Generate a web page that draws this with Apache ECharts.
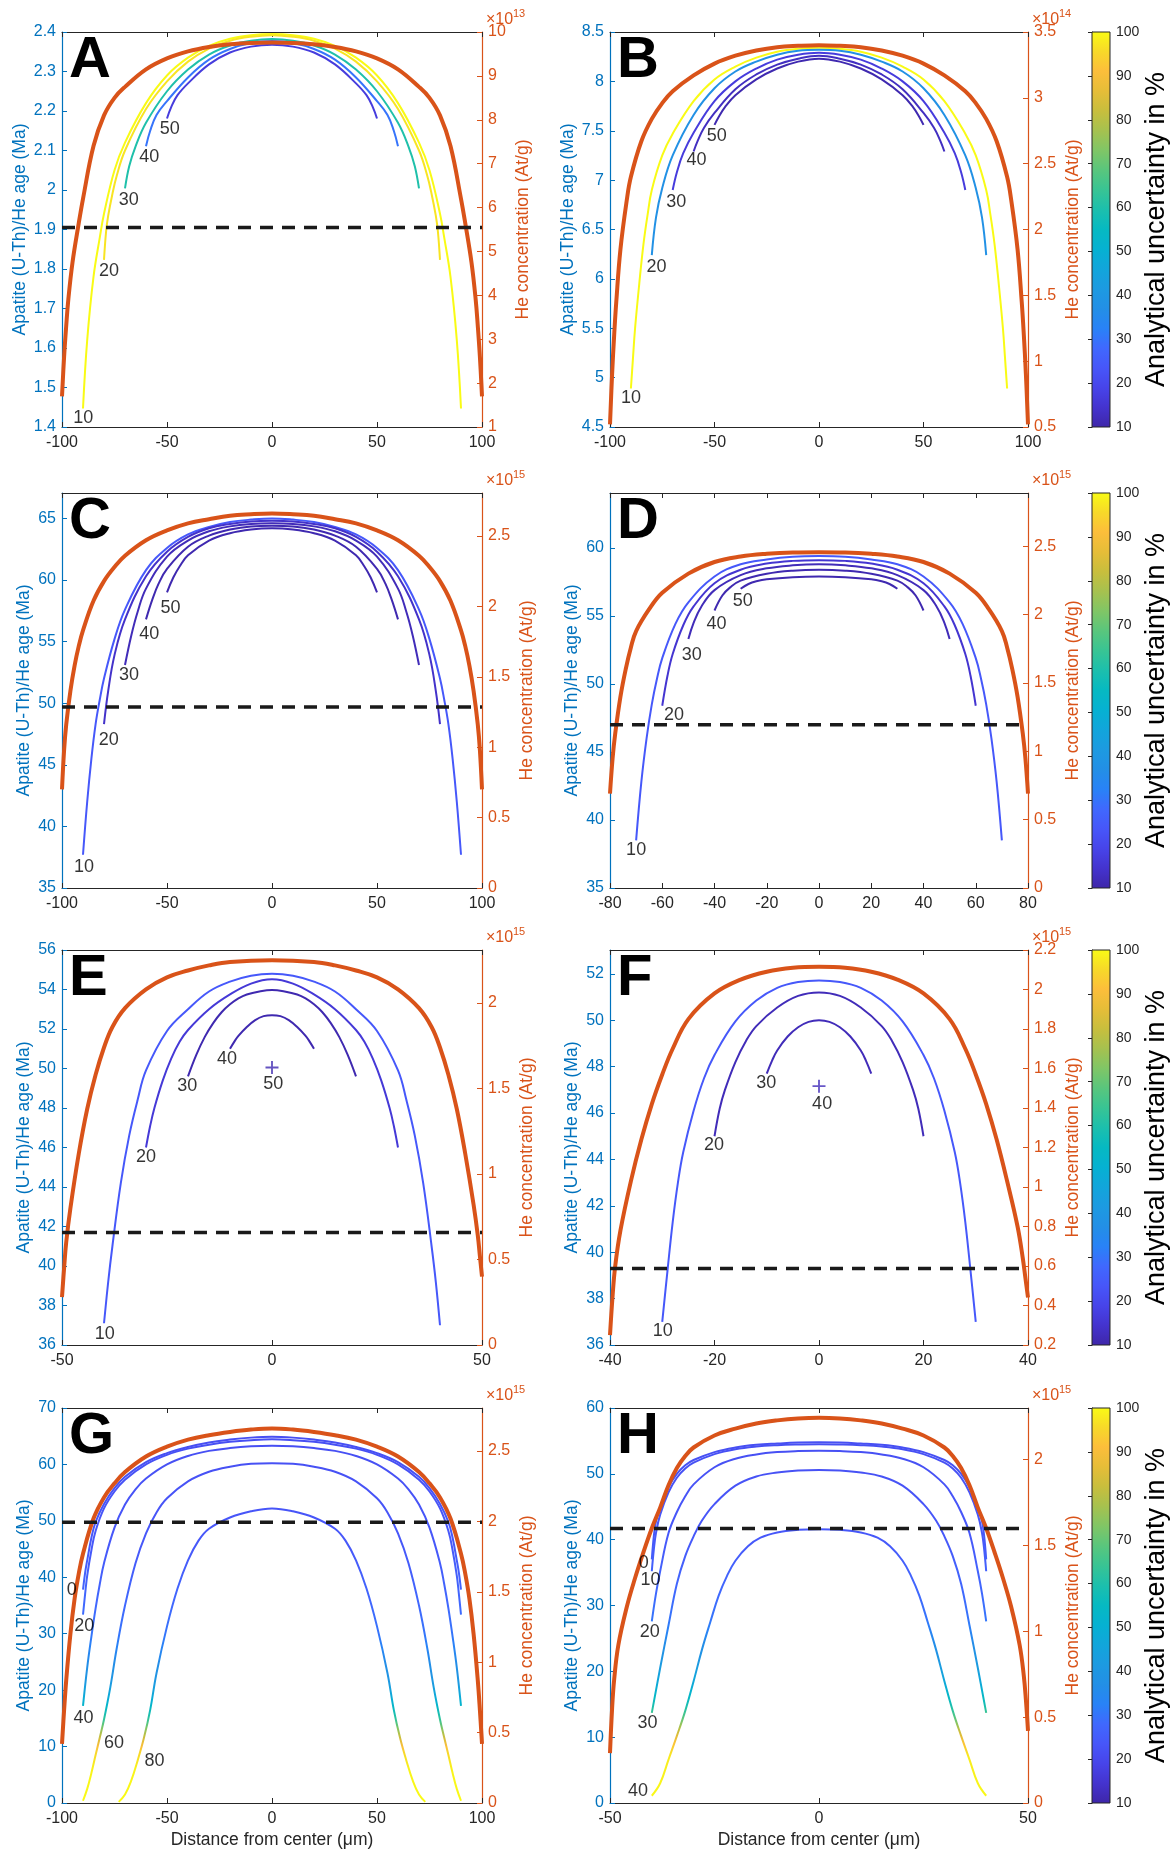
<!DOCTYPE html>
<html><head><meta charset="utf-8">
<script src="https://cdn.jsdelivr.net/npm/echarts@6/dist/echarts.min.js"></script>
<style>html,body{margin:0;padding:0;background:#fff}#c{width:1172px;height:1854px}</style>
</head><body><div id="c"></div>
<script>
// ---------------- tick labels ----------------
const X100 = [-100,-50,0,50,100];
const X80 = [-80,-60,-40,-20,0,20,40,60,80];
const X50 = [-50,0,50];
const X40 = [-40,-20,0,20,40];
const A_yT = [1.4,1.5,1.6,1.7,1.8,1.9,2,2.1,2.2,2.3,2.4];
const A_rT = [1,2,3,4,5,6,7,8,9,10];
const B_yT = [4.5,5,5.5,6,6.5,7,7.5,8,8.5];
const B_rT = [0.5,1,1.5,2,2.5,3,3.5];
const C_yT = [35,40,45,50,55,60,65];
const C_rT = [0,0.5,1,1.5,2,2.5];
const D_yT = [35,40,45,50,55,60];
const D_rT = [0,0.5,1,1.5,2,2.5];
const E_yT = [36,38,40,42,44,46,48,50,52,54,56];
const E_rT = [0,0.5,1,1.5,2];
const F_yT = [36,38,40,42,44,46,48,50,52];
const F_rT = [0.2,0.4,0.6,0.8,1,1.2,1.4,1.6,1.8,2,2.2];
const G_yT = [0,10,20,30,40,50,60,70];
const G_rT = [0,0.5,1,1.5,2,2.5];
const H_yT = [0,10,20,30,40,50,60];
const H_rT = [0,0.5,1,1.5,2];
const CB_T = [10,20,30,40,50,60,70,80,90,100];

// ---------------- panel A ----------------
const A_c10 = [[-90,1.447],[-88,1.62],[-85,1.78],[-82,1.88],[-80,1.94],[-75,2.05],[-70,2.12],[-60,2.22],[-50,2.29],[-40,2.335],[-30,2.365],[-20,2.383],[-10,2.392],[0,2.395],[10,2.392],[20,2.383],[30,2.365],[40,2.335],[50,2.29],[60,2.22],[70,2.12],[75,2.05],[80,1.94],[82,1.88],[85,1.78],[88,1.62],[90,1.447]];
const A_c20 = [[-80,1.823],[-79,1.895],[-78,1.935],[-76,1.99],[-74,2.035],[-70,2.1],[-60,2.205],[-50,2.275],[-40,2.325],[-30,2.358],[-20,2.378],[-10,2.388],[0,2.392],[10,2.388],[20,2.378],[30,2.358],[40,2.325],[50,2.275],[60,2.205],[70,2.1],[74,2.035],[76,1.99],[78,1.935],[79,1.895],[80,1.823]];
const A_c30 = [[-70,2.004],[-68,2.06],[-65,2.11],[-60,2.17],[-50,2.25],[-40,2.305],[-30,2.343],[-20,2.366],[-10,2.378],[0,2.382],[10,2.378],[20,2.366],[30,2.343],[40,2.305],[50,2.25],[60,2.17],[65,2.11],[68,2.06],[70,2.004]];
const A_c40 = [[-60,2.111],[-58,2.15],[-55,2.19],[-50,2.225],[-40,2.285],[-30,2.33],[-20,2.357],[-10,2.372],[0,2.377],[10,2.372],[20,2.357],[30,2.33],[40,2.285],[50,2.225],[55,2.19],[58,2.15],[60,2.111]];
const A_c50 = [[-50,2.181],[-48,2.21],[-45,2.24],[-40,2.27],[-30,2.318],[-20,2.348],[-10,2.363],[0,2.368],[10,2.363],[20,2.348],[30,2.318],[40,2.27],[45,2.24],[48,2.21],[50,2.181]];
const A_he = [[-100,1.7],[-99,2.6],[-98,3.3],[-97,3.9],[-95,4.75],[-92,5.65],[-90,6.2],[-85,7.4],[-80,8.1],[-75,8.5],[-70,8.75],[-60,9.15],[-50,9.4],[-40,9.56],[-30,9.66],[-20,9.72],[-10,9.75],[0,9.76],[10,9.75],[20,9.72],[30,9.66],[40,9.56],[50,9.4],[60,9.15],[70,8.75],[75,8.5],[80,8.1],[85,7.4],[90,6.2],[92,5.65],[95,4.75],[97,3.9],[98,3.3],[99,2.6],[100,1.7]];
const A_unc = [100,97,60,30,17];
const A_dash = 1.905;
const A_labels = [[-89.9,1.422,'10'],[-77.6,1.796,'20'],[-68.2,1.975,'30'],[-58.5,2.084,'40'],[-48.7,2.154,'50']];

// ---------------- panel B ----------------
const B_c10 = [[-90,4.89],[-89,5.2],[-88,5.5],[-86,5.95],[-84,6.35],[-82,6.65],[-80,6.9],[-75,7.25],[-70,7.47],[-60,7.8],[-50,8.02],[-40,8.15],[-30,8.24],[-20,8.3],[-10,8.33],[0,8.34],[10,8.33],[20,8.3],[30,8.24],[40,8.15],[50,8.02],[60,7.8],[70,7.47],[75,7.25],[80,6.9],[82,6.65],[84,6.35],[86,5.95],[88,5.5],[89,5.2],[90,4.89]];
const B_c20 = [[-80,6.24],[-78,6.62],[-75,6.92],[-70,7.25],[-60,7.66],[-50,7.93],[-40,8.1],[-30,8.2],[-20,8.27],[-10,8.31],[0,8.32],[10,8.31],[20,8.27],[30,8.2],[40,8.1],[50,7.93],[60,7.66],[70,7.25],[75,6.92],[78,6.62],[80,6.24]];
const B_c30 = [[-70,6.9],[-68,7.08],[-65,7.27],[-60,7.48],[-50,7.8],[-40,8.0],[-30,8.13],[-20,8.22],[-10,8.27],[0,8.29],[10,8.27],[20,8.22],[30,8.13],[40,8.0],[50,7.8],[60,7.48],[65,7.27],[68,7.08],[70,6.9]];
const B_c40 = [[-60,7.29],[-58,7.4],[-55,7.53],[-50,7.68],[-40,7.92],[-30,8.07],[-20,8.17],[-10,8.23],[0,8.26],[10,8.23],[20,8.17],[30,8.07],[40,7.92],[50,7.68],[55,7.53],[58,7.4],[60,7.29]];
const B_c50 = [[-50,7.56],[-48,7.64],[-45,7.74],[-40,7.86],[-30,8.02],[-20,8.13],[-10,8.2],[0,8.23],[10,8.2],[20,8.13],[30,8.02],[40,7.86],[45,7.74],[48,7.64],[50,7.56]];
const B_he = [[-100,0.52],[-99,0.9],[-98,1.2],[-97,1.45],[-95,1.85],[-92,2.22],[-90,2.4],[-85,2.67],[-80,2.84],[-75,2.96],[-70,3.05],[-60,3.17],[-50,3.26],[-40,3.32],[-30,3.36],[-20,3.385],[-10,3.395],[0,3.4],[10,3.395],[20,3.385],[30,3.36],[40,3.32],[50,3.26],[60,3.17],[70,3.05],[75,2.96],[80,2.84],[85,2.67],[90,2.4],[92,2.22],[95,1.85],[97,1.45],[98,1.2],[99,0.9],[100,0.52]];
const B_unc = [100,38,17,13,11];
const B_dash = null;
const B_labels = [[-90,4.79,'10'],[-77.8,6.12,'20'],[-68.3,6.78,'30'],[-58.6,7.2,'40'],[-48.9,7.45,'50']];

// ---------------- panel C ----------------
const C_c10 = [[-90,37.7],[-88,42.0],[-86,45.5],[-84,48.3],[-82,50.3],[-80,52.0],[-75,55.2],[-70,57.6],[-60,60.8],[-50,62.6],[-40,63.7],[-30,64.3],[-20,64.7],[-10,64.9],[0,65.0],[10,64.9],[20,64.7],[30,64.3],[40,63.7],[50,62.6],[60,60.8],[70,57.6],[75,55.2],[80,52.0],[82,50.3],[84,48.3],[86,45.5],[88,42.0],[90,37.7]];
const C_c20 = [[-80,48.3],[-78,51.0],[-75,53.9],[-70,56.8],[-60,60.3],[-50,62.3],[-40,63.5],[-30,64.2],[-20,64.55],[-10,64.75],[0,64.8],[10,64.75],[20,64.55],[30,64.2],[40,63.5],[50,62.3],[60,60.3],[70,56.8],[75,53.9],[78,51.0],[80,48.3]];
const C_c30 = [[-70,53.1],[-67,55.5],[-64,57.4],[-60,59.3],[-50,61.9],[-40,63.2],[-30,63.95],[-20,64.35],[-10,64.55],[0,64.6],[10,64.55],[20,64.35],[30,63.95],[40,63.2],[50,61.9],[60,59.3],[64,57.4],[67,55.5],[70,53.1]];
const C_c40 = [[-60,56.8],[-57,58.4],[-54,59.7],[-50,60.9],[-40,62.7],[-30,63.6],[-20,64.1],[-10,64.35],[0,64.4],[10,64.35],[20,64.1],[30,63.6],[40,62.7],[50,60.9],[54,59.7],[57,58.4],[60,56.8]];
const C_c50 = [[-50,59.0],[-47,60.2],[-44,61.1],[-40,62.0],[-30,63.2],[-20,63.8],[-10,64.1],[0,64.2],[10,64.1],[20,63.8],[30,63.2],[40,62.0],[44,61.1],[47,60.2],[50,59.0]];
const C_he = [[-100,0.7],[-99,0.98],[-98,1.16],[-96,1.4],[-94,1.58],[-92,1.72],[-90,1.83],[-85,2.04],[-80,2.18],[-75,2.28],[-70,2.36],[-60,2.47],[-50,2.54],[-40,2.59],[-30,2.62],[-20,2.645],[-10,2.655],[0,2.66],[10,2.655],[20,2.645],[30,2.62],[40,2.59],[50,2.54],[60,2.47],[70,2.36],[75,2.28],[80,2.18],[85,2.04],[90,1.83],[92,1.72],[94,1.58],[96,1.4],[98,1.16],[99,0.98],[100,0.7]];
const C_unc = [24,14,12,11,11];
const C_dash = 49.7;
const C_labels = [[-89.5,36.7,'10'],[-77.7,47.0,'20'],[-68.1,52.3,'30'],[-58.5,55.6,'40'],[-48.3,57.7,'50']];

// ---------------- panel D ----------------
const D_c10 = [[-70,38.5],[-68,42.8],[-66,46.0],[-64,48.5],[-62,50.4],[-60,51.9],[-55,54.4],[-50,56.0],[-40,57.9],[-30,58.8],[-20,59.15],[-10,59.35],[0,59.4],[10,59.35],[20,59.15],[30,58.8],[40,57.9],[50,56.0],[55,54.4],[60,51.9],[62,50.4],[64,48.5],[66,46.0],[68,42.8],[70,38.5]];
const D_c20 = [[-60,48.4],[-58,50.6],[-56,52.2],[-52,54.3],[-48,55.7],[-40,57.4],[-30,58.4],[-20,58.85],[-10,59.05],[0,59.1],[10,59.05],[20,58.85],[30,58.4],[40,57.4],[48,55.7],[52,54.3],[56,52.2],[58,50.6],[60,48.4]];
const D_c30 = [[-50,53.3],[-48,54.5],[-45,55.7],[-40,56.9],[-30,58.0],[-20,58.5],[-10,58.72],[0,58.8],[10,58.72],[20,58.5],[30,58.0],[40,56.9],[45,55.7],[48,54.5],[50,53.3]];
const D_c40 = [[-40,55.4],[-37,56.5],[-34,57.1],[-30,57.6],[-20,58.1],[-10,58.33],[0,58.4],[10,58.33],[20,58.1],[30,57.6],[34,57.1],[37,56.5],[40,55.4]];
const D_c50 = [[-30,57.0],[-27,57.35],[-24,57.55],[-20,57.7],[-10,57.85],[0,57.9],[10,57.85],[20,57.7],[24,57.55],[27,57.35],[30,57.0]];
const D_he = [[-80,0.69],[-79,0.95],[-78,1.13],[-76,1.4],[-74,1.6],[-72,1.76],[-70,1.88],[-65,2.04],[-60,2.16],[-50,2.3],[-40,2.385],[-30,2.425],[-20,2.445],[-10,2.455],[0,2.457],[10,2.455],[20,2.445],[30,2.425],[40,2.385],[50,2.3],[60,2.16],[65,2.04],[70,1.88],[72,1.76],[74,1.6],[76,1.4],[78,1.13],[79,0.95],[80,0.69]];
const D_unc = [24,15,12,11,11];
const D_dash = 47.0;
const D_labels = [[-70,37.8,'10'],[-55.5,47.7,'20'],[-48.7,52.1,'30'],[-39.2,54.4,'40'],[-29.2,56.1,'50']];

// ---------------- panel E ----------------
const E_c10 = [[-40,37.1],[-39,39.2],[-38,41.0],[-36,44.2],[-34,46.6],[-32,48.4],[-30,49.9],[-25,51.9],[-20,53.0],[-15,53.9],[-10,54.4],[-5,54.7],[0,54.8],[5,54.7],[10,54.4],[15,53.9],[20,53.0],[25,51.9],[30,49.9],[32,48.4],[34,46.6],[36,44.2],[38,41.0],[39,39.2],[40,37.0]];
const E_c20 = [[-30,46.0],[-29,47.1],[-28,48.0],[-26,49.4],[-24,50.5],[-22,51.35],[-20,51.95],[-15,53.0],[-10,53.75],[-5,54.3],[0,54.52],[5,54.3],[10,53.75],[15,53.0],[20,51.95],[22,51.35],[24,50.5],[26,49.4],[28,48.0],[29,47.1],[30,46.0]];
const E_c30 = [[-20,49.6],[-18,50.7],[-16,51.6],[-14,52.3],[-12,52.85],[-10,53.25],[-8,53.55],[-6,53.75],[-3,53.9],[0,53.97],[3,53.9],[6,53.75],[8,53.55],[10,53.25],[12,52.85],[14,52.3],[16,51.6],[18,50.7],[20,49.6]];
const E_c40 = [[-10,51.0],[-9,51.35],[-8,51.65],[-6,52.1],[-4,52.45],[-2,52.65],[0,52.7],[2,52.65],[4,52.45],[6,52.1],[8,51.65],[9,51.35],[10,51.0]];
const E_he = [[-50,0.28],[-49.5,0.45],[-49,0.6],[-48,0.8],[-46,1.12],[-44,1.38],[-42,1.58],[-40,1.74],[-38,1.86],[-35,1.97],[-30,2.08],[-25,2.15],[-20,2.19],[-15,2.22],[-10,2.24],[0,2.25],[10,2.24],[15,2.22],[20,2.19],[25,2.15],[30,2.08],[35,1.97],[38,1.86],[40,1.74],[42,1.58],[44,1.38],[46,1.12],[48,0.82],[49,0.64],[49.5,0.52],[50,0.4]];
const E_unc = [24,16,11,11];
const E_dash = 41.7;
const E_plus = [0,50.05,11];
const E_labels = [[-39.8,36.56,'10'],[-30,45.5,'20'],[-20.2,49.1,'30'],[-10.7,50.5,'40'],[0.3,49.2,'50']];

// ---------------- panel F ----------------
const F_c10 = [[-30,37.0],[-29,39.2],[-28,41.3],[-27,43.0],[-26,44.3],[-24,46.1],[-22,47.5],[-20,48.5],[-16,49.95],[-12,50.85],[-8,51.4],[-4,51.65],[0,51.72],[4,51.65],[8,51.4],[12,50.85],[16,49.95],[20,48.5],[22,47.5],[24,46.1],[26,44.3],[27,43.0],[28,41.3],[29,39.2],[30,37.0]];
const F_c20 = [[-20,45.0],[-19,46.2],[-18,47.0],[-16,48.2],[-14,49.1],[-12,49.75],[-8,50.55],[-4,51.05],[0,51.2],[4,51.05],[8,50.55],[12,49.75],[14,49.1],[16,48.2],[18,47.0],[19,46.2],[20,45.0]];
const F_c30 = [[-10,47.7],[-9,48.25],[-8,48.7],[-6,49.3],[-4,49.7],[-2,49.93],[0,50.0],[2,49.93],[4,49.7],[6,49.3],[8,48.7],[9,48.25],[10,47.7]];
const F_he = [[-40,0.25],[-39.5,0.45],[-39,0.6],[-38,0.78],[-36,1.03],[-34,1.24],[-32,1.42],[-30,1.57],[-28,1.7],[-25,1.85],[-20,1.98],[-15,2.05],[-10,2.09],[-5,2.11],[0,2.115],[5,2.11],[10,2.09],[15,2.05],[20,1.98],[25,1.85],[28,1.7],[30,1.57],[32,1.42],[34,1.24],[36,1.03],[38,0.8],[39,0.64],[39.5,0.54],[40,0.44]];
const F_unc = [24,12,12];
const F_dash = 39.3;
const F_plus = [0,47.16,12];
const F_labels = [[-29.9,36.6,'10'],[-20.1,44.6,'20'],[-10.1,47.3,'30'],[0.6,46.4,'40']];

// ---------------- panel G ----------------
const G_c0 = [[-90,37.8],[-89,40.8],[-88,43.0],[-86,47.0],[-84,49.8],[-80,53.0],[-75,55.8],[-70,57.8],[-60,60.4],[-50,62.0],[-40,63.1],[-30,63.9],[-20,64.4],[-10,64.75],[0,64.9],[10,64.75],[20,64.4],[30,63.9],[40,63.1],[50,62.0],[60,60.4],[70,57.8],[75,55.8],[80,53.0],[84,49.8],[86,47.0],[88,43.0],[89,40.8],[90,37.8]];
const G_c20 = [[-90,33.4],[-89,37.0],[-88,40.3],[-86,44.8],[-84,48.2],[-80,52.2],[-75,55.2],[-70,57.3],[-60,60.0],[-50,61.7],[-40,62.8],[-30,63.5],[-20,64.0],[-10,64.3],[0,64.45],[10,64.3],[20,64.0],[30,63.5],[40,62.8],[50,61.7],[60,60.0],[70,57.3],[75,55.2],[80,52.2],[84,48.2],[86,44.8],[88,40.3],[89,37.0],[90,33.4]];
const G_c40 = [[-90,17.2],[-88,24.0],[-86,29.5],[-84,34.5],[-82,38.8],[-80,42.5],[-75,48.8],[-70,52.9],[-65,55.6],[-60,57.5],[-50,60.0],[-40,61.5],[-30,62.4],[-20,62.9],[-10,63.2],[0,63.3],[10,63.2],[20,62.9],[30,62.4],[40,61.5],[50,60.0],[60,57.5],[65,55.6],[70,52.9],[75,48.8],[80,42.5],[82,38.8],[84,34.5],[86,29.5],[88,24.0],[90,17.2]];
const G_c60 = [[-90,0.4],[-88,2.5],[-86,5.3],[-84,8.5],[-82,11.6],[-80,14.8],[-77,20.5],[-74,27.3],[-70,35.0],[-65,42.5],[-60,47.8],[-55,51.5],[-50,54.0],[-40,57.0],[-30,58.7],[-20,59.6],[-10,60.1],[0,60.2],[10,60.1],[20,59.6],[30,58.7],[40,57.0],[50,54.0],[55,51.5],[60,47.8],[65,42.5],[70,35.0],[74,27.3],[77,20.5],[80,14.8],[82,11.6],[84,8.5],[86,5.3],[88,2.5],[90,0.4]];
const G_c80 = [[-73,0.2],[-70,1.5],[-67,4.0],[-64,7.5],[-61,11.5],[-58,16.5],[-55,23.0],[-50,31.3],[-45,38.0],[-40,43.0],[-35,46.5],[-30,48.6],[-20,50.6],[-10,51.7],[0,52.2],[10,51.7],[20,50.6],[30,48.6],[35,46.5],[40,43.0],[45,38.0],[50,31.3],[55,23.0],[58,16.5],[61,11.5],[64,7.5],[67,4.0],[70,1.5],[73,0.2]];
const G_he = [[-100,0.42],[-99,0.66],[-98,0.87],[-96,1.2],[-94,1.45],[-92,1.63],[-90,1.77],[-85,2.02],[-80,2.17],[-75,2.27],[-70,2.35],[-60,2.46],[-50,2.53],[-40,2.58],[-30,2.612],[-20,2.635],[-10,2.652],[0,2.66],[10,2.652],[20,2.635],[30,2.612],[40,2.58],[50,2.53],[60,2.46],[70,2.35],[75,2.27],[80,2.17],[85,2.02],[90,1.77],[92,1.63],[94,1.45],[96,1.2],[98,0.87],[99,0.66],[100,0.42]];
const G_dash = 49.75;
const G_labels = [[-95.4,37.8,'0'],[-89.4,31.3,'20'],[-89.8,15.1,'40'],[-75.2,10.7,'60'],[-56.0,7.5,'80']];
const G_ageStops = [0,6,9,11,13,15,18,22,30,45,70];
const G_uncStops = [100,99,95,86,75,62,50,40,30,24,21];

// ---------------- panel H ----------------
const H_c0 = [[-40,37.0],[-39.5,40.6],[-39,42.8],[-38,45.0],[-36,48.0],[-34,50.0],[-32,51.3],[-30,52.1],[-25,53.3],[-20,54.0],[-15,54.4],[-10,54.6],[-5,54.75],[0,54.8],[5,54.75],[10,54.6],[15,54.4],[20,54.0],[25,53.3],[30,52.1],[32,51.3],[34,50.0],[36,48.0],[38,45.0],[39,42.8],[39.5,40.6],[40,37.0]];
const H_c10 = [[-40,35.2],[-39.5,38.6],[-39,41.0],[-38,43.8],[-36,47.2],[-34,49.4],[-32,50.8],[-30,51.7],[-25,53.0],[-20,53.75],[-15,54.15],[-10,54.35],[-5,54.45],[0,54.5],[5,54.45],[10,54.35],[15,54.15],[20,53.75],[25,53.0],[30,51.7],[32,50.8],[34,49.4],[36,47.2],[38,43.8],[39,41.0],[39.5,38.6],[40,35.2]];
const H_c20 = [[-40,27.6],[-39,31.8],[-38,35.2],[-36,41.0],[-34,44.2],[-32,46.6],[-30,48.4],[-25,51.0],[-20,52.3],[-15,52.95],[-10,53.3],[-5,53.45],[0,53.5],[5,53.45],[10,53.3],[15,52.95],[20,52.3],[25,51.0],[30,48.4],[32,46.6],[34,44.2],[36,41.0],[38,35.2],[39,31.8],[40,27.6]];
const H_c30 = [[-40,13.7],[-38,20.5],[-36,27.0],[-34,33.3],[-32,37.5],[-30,40.5],[-28,42.9],[-25,45.4],[-20,48.2],[-15,49.6],[-10,50.2],[-5,50.5],[0,50.6],[5,50.5],[10,50.2],[15,49.6],[20,48.2],[25,45.4],[28,42.9],[30,40.5],[32,37.5],[34,33.3],[36,27.0],[38,20.5],[40,13.7]];
const H_c40 = [[-40,1.1],[-38,3.0],[-36,6.6],[-34,10.2],[-32,14.0],[-30,18.5],[-28,23.3],[-26,27.5],[-24,31.5],[-22,34.5],[-20,36.8],[-17,39.0],[-14,40.3],[-10,41.1],[-5,41.5],[0,41.6],[5,41.5],[10,41.1],[14,40.3],[17,39.0],[20,36.8],[22,34.5],[24,31.5],[26,27.5],[28,23.3],[30,18.5],[32,14.0],[34,10.2],[36,6.6],[38,3.0],[40,1.1]];
const H_he = [[-50,0.29],[-49.5,0.55],[-49,0.72],[-48,0.92],[-46,1.14],[-44,1.31],[-42,1.46],[-40,1.6],[-38,1.72],[-36,1.85],[-34,1.95],[-32,2.02],[-30,2.07],[-25,2.14],[-20,2.18],[-15,2.21],[-10,2.228],[-5,2.239],[0,2.243],[5,2.239],[10,2.228],[15,2.21],[20,2.18],[25,2.14],[30,2.07],[32,2.02],[34,1.95],[36,1.85],[38,1.72],[40,1.6],[42,1.46],[44,1.31],[46,1.14],[48,0.92],[49,0.74],[49.5,0.6],[50,0.42]];
const H_dash = 41.7;
const H_labels = [[-41.9,36.4,'0'],[-40.3,33.9,'10'],[-40.5,25.9,'20'],[-41.0,12.2,'30'],[-43.3,1.8,'40']];
const H_ageStops = [0,7,9,11,13,15,18,22,28,40,60];
const H_uncStops = [100,98,92,82,68,58,48,40,30,24,21];

// ---------------- styling ----------------
const FONT = '"Liberation Sans", Arial, Helvetica, sans-serif';
const BLUE = '#0072BD', ORANGE = '#D95319', AX = '#262626';
const colLeft = [62, 610], colWidth = [420, 418];
const rowTop = [32, 493, 950, 1408], rowH = 395;
const PARULA = [[0,62,38,168],[0.05,68,51,206],[0.1,71,68,233],[0.15,71,86,249],[0.2,64,104,254],[0.25,41,130,247],[0.3,35,143,230],[0.35,29,154,225],[0.4,18,165,219],[0.45,6,177,210],[0.5,6,185,194],[0.55,28,191,173],[0.6,56,196,148],[0.65,89,198,125],[0.7,128,198,102],[0.75,166,193,79],[0.8,200,190,61],[0.85,230,189,56],[0.9,252,190,59],[0.95,247,217,41],[1,249,251,21]];
function parulaT(t){
  t = Math.max(0, Math.min(1, t));
  for (let i = 1; i < PARULA.length; i++) {
    if (t <= PARULA[i][0]) {
      const a = PARULA[i-1], b = PARULA[i], f = (t - a[0]) / (b[0] - a[0]);
      return 'rgb(' + [1,2,3].map(k => Math.round(a[k] + (b[k]-a[k])*f)).join(',') + ')';
    }
  }
  return 'rgb(249,251,21)';
}
function parula(u){ return parulaT((u - 10) / 90); }
function lookup(v, xs, ys){
  if (v <= xs[0]) return ys[0];
  for (let i = 1; i < xs.length; i++) if (v <= xs[i]) return ys[i-1] + (ys[i]-ys[i-1])*(v-xs[i-1])/(xs[i]-xs[i-1]);
  return ys[ys.length-1];
}

const panels = [
 {id:'A',row:0,col:0,xR:[-100,100],xT:X100,yL:[1.4,2.4],yLT:A_yT,yR:[1,10],yRT:A_rT,exp:'13',curves:[A_c10,A_c20,A_c30,A_c40,A_c50],unc:A_unc,he:A_he,dash:A_dash,labels:A_labels,lGap:33,rGap:32},
 {id:'B',row:0,col:1,xR:[-100,100],xT:X100,yL:[4.5,8.5],yLT:B_yT,yR:[0.5,3.5],yRT:B_rT,exp:'14',curves:[B_c10,B_c20,B_c30,B_c40,B_c50],unc:B_unc,he:B_he,dash:B_dash,labels:B_labels,lGap:33,rGap:36},
 {id:'C',row:1,col:0,xR:[-100,100],xT:X100,yL:[35,67.06],yLT:C_yT,yR:[0,2.806],yRT:C_rT,exp:'15',curves:[C_c10,C_c20,C_c30,C_c40,C_c50],unc:C_unc,he:C_he,dash:C_dash,labels:C_labels,lGap:29,rGap:36},
 {id:'D',row:1,col:1,xR:[-80,80],xT:X80,yL:[35,64.04],yLT:D_yT,yR:[0,2.89],yRT:D_rT,exp:'15',curves:[D_c10,D_c20,D_c30,D_c40,D_c50],unc:D_unc,he:D_he,dash:D_dash,labels:D_labels,lGap:29,rGap:36},
 {id:'E',row:2,col:0,xR:[-50,50],xT:X50,yL:[36,56],yLT:E_yT,yR:[0,2.31],yRT:E_rT,exp:'15',curves:[E_c10,E_c20,E_c30,E_c40],unc:E_unc,he:E_he,dash:E_dash,labels:E_labels,plus:E_plus,lGap:29,rGap:36},
 {id:'F',row:2,col:1,xR:[-40,40],xT:X40,yL:[36,53.03],yLT:F_yT,yR:[0.2,2.2],yRT:F_rT,exp:'15',curves:[F_c10,F_c20,F_c30],unc:F_unc,he:F_he,dash:F_dash,labels:F_labels,plus:F_plus,lGap:29,rGap:36},
 {id:'G',row:3,col:0,xR:[-100,100],xT:X100,yL:[0,70],yLT:G_yT,yR:[0,2.805],yRT:G_rT,exp:'15',curves:[G_c0,G_c20,G_c40,G_c60,G_c80],grad:[G_ageStops,G_uncStops],he:G_he,dash:G_dash,labels:G_labels,lGap:29,rGap:36,xName:true},
 {id:'H',row:3,col:1,xR:[-50,50],xT:X50,yL:[0,60],yLT:H_yT,yR:[0,2.30],yRT:H_rT,exp:'15',curves:[H_c0,H_c10,H_c20,H_c30,H_c40],grad:[H_ageStops,H_uncStops],he:H_he,dash:H_dash,labels:H_labels,lGap:29,rGap:36,xName:true}
];

const grid = [], xAxis = [], yAxis = [], series = [], visualMap = [], graphic = [];
const txt = (c, s) => ({color: c, fontSize: s, fontFamily: FONT});

panels.forEach((p, i) => {
  const L = colLeft[p.col], W = colWidth[p.col], T = rowTop[p.row];
  grid.push({left: L, top: T, width: W, height: rowH});
  xAxis.push({gridIndex: i, type: 'value', min: p.xR[0], max: p.xR[1], position: 'bottom',
    axisLine: {show: true, onZero: false, lineStyle: {color: AX, width: 1}},
    axisTick: {show: true, inside: true, length: 5, customValues: p.xT, lineStyle: {color: AX}},
    axisLabel: {customValues: p.xT, margin: 8, ...txt(AX, 16)},
    splitLine: {show: false},
    name: p.xName ? 'Distance from center (μm)' : '', nameLocation: 'middle', nameGap: 28,
    nameTextStyle: txt(AX, 17.5)});
  xAxis.push({gridIndex: i, type: 'value', min: p.xR[0], max: p.xR[1], position: 'top',
    axisLine: {show: true, onZero: false, lineStyle: {color: AX, width: 1}},
    axisTick: {show: true, inside: true, length: 5, customValues: p.xT, lineStyle: {color: AX}},
    axisLabel: {show: false}, splitLine: {show: false}});
  yAxis.push({gridIndex: i, type: 'value', min: p.yL[0], max: p.yL[1], position: 'left',
    axisLine: {show: true, onZero: false, lineStyle: {color: BLUE, width: 1.2}},
    axisTick: {show: true, inside: true, length: 5, customValues: p.yLT, lineStyle: {color: BLUE}},
    axisLabel: {customValues: p.yLT, margin: 6, ...txt(BLUE, 16)},
    splitLine: {show: false},
    name: 'Apatite (U-Th)/He age (Ma)', nameLocation: 'middle', nameGap: p.lGap, nameTextStyle: txt(BLUE, 17.5)});
  yAxis.push({gridIndex: i, type: 'value', min: p.yR[0], max: p.yR[1], position: 'right',
    axisLine: {show: true, onZero: false, lineStyle: {color: ORANGE, width: 1.2}},
    axisTick: {show: true, inside: true, length: 5, customValues: p.yRT, lineStyle: {color: ORANGE}},
    axisLabel: {customValues: p.yRT, margin: 6, ...txt(ORANGE, 16)},
    splitLine: {show: false},
    name: 'He concentration (At/g)', nameLocation: 'middle', nameGap: p.rGap, nameTextStyle: txt(ORANGE, 17.5)});

  const gradIdx = [];
  p.curves.forEach((c, k) => {
    const s = {type: 'line', xAxisIndex: 2*i, yAxisIndex: 2*i, data: c, showSymbol: false,
      smooth: 0.4, silent: true, z: 3, lineStyle: {width: 2}};
    if (!p.grad) s.lineStyle.color = parula(p.unc[k]);
    if (p.grad) gradIdx.push(series.length);
    series.push(s);
  });
  if (p.grad) {
    const [ages, uncs] = p.grad;
    const lo = p.yL[0], hi = p.yL[1];
    const cols = [];
    for (let a = lo; a <= hi; a += 1) cols.push(parula(lookup(a, ages, uncs)));
    visualMap.push({type: 'continuous', show: false, seriesIndex: gradIdx, dimension: 1,
      min: lo, max: hi, inRange: {color: cols}});
  }
  series.push({type: 'line', xAxisIndex: 2*i, yAxisIndex: 2*i+1, data: p.he, showSymbol: false,
    smooth: 0.4, silent: true, z: 4, lineStyle: {width: 4, color: ORANGE}});
  if (p.dash !== null && p.dash !== undefined) {
    series.push({type: 'line', xAxisIndex: 2*i, yAxisIndex: 2*i, data: [[p.xR[0], p.dash], [p.xR[1], p.dash]],
      showSymbol: false, silent: true, z: 5, lineStyle: {width: 3.5, color: '#1a1a1a', type: [13, 9]}});
  }
  if (p.plus) {
    series.push({type: 'scatter', xAxisIndex: 2*i, yAxisIndex: 2*i, data: [[p.plus[0], p.plus[1]]],
      symbol: 'path://M6,0H8V6H14V8H8V14H6V8H0V6H6Z', symbolSize: 13, silent: true, z: 6,
      itemStyle: {color: parula(p.plus[2])}});
  }
  series.push({type: 'scatter', xAxisIndex: 2*i, yAxisIndex: 2*i,
    data: p.labels.map(d => ({value: [d[0], d[1]], name: d[2]})),
    symbolSize: 1, silent: true, z: 7, itemStyle: {color: 'rgba(0,0,0,0)'},
    label: {show: true, position: 'inside', formatter: '{b}', ...txt('#000', 18)}});

  graphic.push({type: 'text', x: L + 7, y: T + 29, style: {text: p.id, font: 'bold 58px ' + FONT, fill: '#000', verticalAlign: 'middle'}, z: 100});
  graphic.push({type: 'text', x: L + W + 4, y: T - 12, style: {text: '×10', font: '16px ' + FONT, fill: ORANGE, verticalAlign: 'middle'}, z: 100});
  graphic.push({type: 'text', x: L + W + 31, y: T - 18, style: {text: p.exp, font: '11px ' + FONT, fill: ORANGE, verticalAlign: 'middle'}, z: 100});
});

// colorbars
const cbStops = [];
for (let k = 0; k < PARULA.length; k++) cbStops.push({offset: PARULA[k][0], color: 'rgb(' + PARULA[k].slice(1).join(',') + ')'});
for (let r = 0; r < 4; r++) {
  const gi = grid.length, xi = xAxis.length, yi = yAxis.length;
  grid.push({left: 1092, top: rowTop[r], width: 18, height: rowH});
  xAxis.push({gridIndex: gi, type: 'value', min: 0, max: 1, show: false});
  yAxis.push({gridIndex: gi, type: 'value', min: 10, max: 100, position: 'right',
    axisLine: {show: true, lineStyle: {color: AX, width: 1}},
    axisTick: {show: true, inside: true, length: 4, customValues: CB_T, lineStyle: {color: AX}},
    axisLabel: {customValues: CB_T, margin: 6, ...txt(AX, 14)},
    splitLine: {show: false},
    name: 'Analytical uncertainty in %', nameLocation: 'middle', nameGap: 21, nameTextStyle: txt('#000', 27)});
  series.push({type: 'custom', xAxisIndex: xi, yAxisIndex: yi, data: [[0, 10, 100]], silent: true, z: 1,
    encode: {x: 0, y: [1, 2]},
    renderItem: (params, api) => {
      const p0 = api.coord([0, api.value(1)]);
      const p1 = api.coord([1, api.value(2)]);
      return {type: 'rect', shape: {x: p0[0], y: p1[1], width: p1[0] - p0[0], height: p0[1] - p1[1]},
        style: {fill: new echarts.graphic.LinearGradient(0, 1, 0, 0, cbStops), stroke: AX, lineWidth: 1}};
    }});
}

const chart = echarts.init(document.getElementById('c'), null, {renderer: 'canvas'});
chart.setOption({animation: false, backgroundColor: '#fff', textStyle: {fontFamily: FONT},
  grid, xAxis, yAxis, series, visualMap, graphic});
</script></body></html>
